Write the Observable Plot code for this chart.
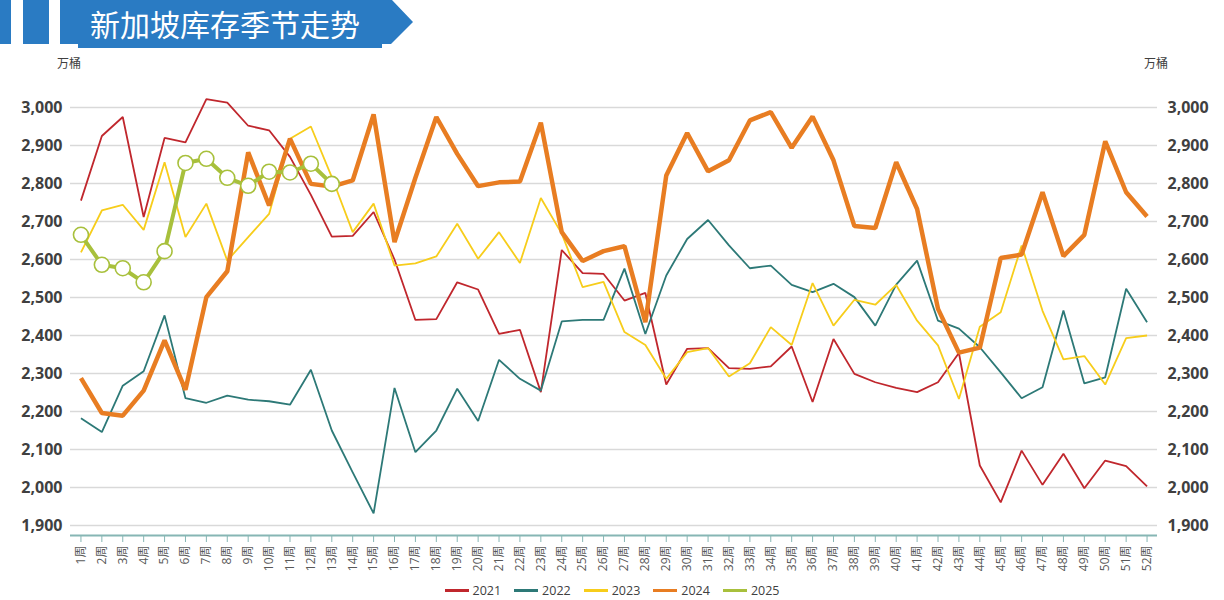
<!DOCTYPE html>
<html>
<head>
<meta charset="utf-8">
<script src="https://cdn.jsdelivr.net/npm/d3@7"></script>
<script src="https://cdn.jsdelivr.net/npm/@observablehq/plot@0.6"></script>
<style>
  html, body { margin: 0; padding: 0; background: #fff; }
  body { width: 1224px; height: 600px; position: relative; overflow: hidden;
         font-family: "Open Sans", "Noto Sans CJK SC", sans-serif; }
  #banner { position: absolute; left: 0; top: 0; }
  #chart { position: absolute; left: 0; top: 0; }
  .unit { position: absolute; top: 54px; font-size: 12px; color: #404040;
          font-family: "Noto Sans CJK SC", sans-serif; }
  #legend { position: absolute; top: 582px; left: 0; width: 1224px; display: flex;
            justify-content: center; gap: 13px; font-size: 12.5px; color: #404040; }
  #legend .item { display: flex; align-items: center; gap: 4px; }
  #legend .sw { width: 24px; height: 3px; display: inline-block; }
</style>
</head>
<body>
<svg id="banner" width="430" height="50">
  <rect x="0" y="0" width="11" height="44" fill="#2a7bc3"/>
  <rect x="23" y="0" width="26" height="44" fill="#2a7bc3"/>
  <polygon points="60,0 392,0 413,22 391,44 382,44 382,48 78,48 78,44 60,44" fill="#2a7bc3"/>
  <text x="90" y="36" fill="#fff" font-size="30" font-family="'Noto Sans CJK SC', sans-serif">新加坡库存季节走势</text>
</svg>
<div class="unit" style="left:57px">万桶</div>
<div class="unit" style="left:1144px">万桶</div>
<div id="chart"></div>
<div id="legend"></div>
<script>
const weeks = ["1周","2周","3周","4周","5周","6周","7周","8周","9周","10周","11周","12周","13周","14周","15周","16周","17周","18周","19周","20周","21周","22周","23周","24周","25周","26周","27周","28周","29周","30周","31周","32周","33周","34周","35周","36周","37周","38周","39周","40周","41周","42周","43周","44周","45周","46周","47周","48周","49周","50周","51周","52周"];
const yTicks = [1900, 2000, 2100, 2200, 2300, 2400, 2500, 2600, 2700, 2800, 2900, 3000];
const years = ["2021", "2022", "2023", "2024", "2025"];
const colors = ["#c0272d", "#2d7977", "#f7cd1b", "#e87d22", "#a8c03c"];

const y2021 = [2755, 2925, 2975, 2712, 2920, 2908, 3022, 3013, 2952, 2940, 2870, 2770, 2660, 2662, 2725, 2600, 2441, 2443, 2540, 2521, 2404, 2415, 2251, 2625, 2564, 2562, 2492, 2512, 2271, 2365, 2367, 2314, 2312, 2319, 2371, 2225, 2391, 2299, 2277, 2262, 2251, 2277, 2354, 2058, 1961, 2097, 2007, 2089, 1998, 2071, 2056, 2003];
const y2022 = [2182, 2146, 2268, 2306, 2453, 2235, 2223, 2242, 2231, 2227, 2218, 2310, 2150, 2040, 1932, 2262, 2093, 2150, 2260, 2175, 2336, 2286, 2255, 2437, 2441, 2441, 2576, 2404, 2558, 2654, 2704, 2637, 2577, 2584, 2533, 2514, 2536, 2501, 2426, 2534, 2597, 2439, 2418, 2369, 2303, 2235, 2264, 2466, 2274, 2290, 2523, 2435];
const y2023 = [2619, 2729, 2744, 2678, 2856, 2659, 2747, 2597, 2659, 2720, 2918, 2950, 2817, 2672, 2747, 2584, 2590, 2608, 2694, 2602, 2672, 2591, 2762, 2668, 2527, 2541, 2409, 2375, 2286, 2356, 2367, 2292, 2327, 2422, 2375, 2538, 2426, 2494, 2481, 2533, 2439, 2374, 2233, 2423, 2461, 2637, 2465, 2337, 2346, 2271, 2393, 2400];
const y2024 = [2288, 2196, 2189, 2255, 2387, 2257, 2501, 2569, 2882, 2742, 2918, 2799, 2792, 2808, 2982, 2646, 2815, 2975, 2878, 2793, 2803, 2805, 2960, 2672, 2596, 2622, 2635, 2435, 2821, 2933, 2832, 2861, 2966, 2988, 2894, 2976, 2861, 2688, 2683, 2856, 2733, 2470, 2355, 2368, 2604, 2613, 2777, 2609, 2665, 2911, 2777, 2713];
const y2025 = [2665, 2586, 2577, 2540, 2622, 2854, 2865, 2815, 2794, 2831, 2829, 2852, 2799];

const series = [y2021, y2022, y2023, y2024, y2025];
const widths = [1.8, 1.8, 1.8, 4.5, 4];
const rows = [];
series.forEach((vals, i) => vals.forEach((v, j) => rows.push({year: years[i], week: weeks[j], value: v})));

const fontFam = "'Open Sans', 'Noto Sans CJK SC', sans-serif";
const lineMarks = years.map((yr, i) => Plot.line(rows.filter(d => d.year === yr), {
  x: "week", y: "value", stroke: colors[i], strokeWidth: widths[i],
  strokeLinejoin: "miter", strokeLinecap: "butt"
}));

const chart = Plot.plot({
  width: 1224,
  height: 575,
  marginTop: 88,
  marginBottom: 40,
  marginLeft: 70,
  marginRight: 67,
  style: {fontFamily: fontFam, background: "transparent"},
  x: {type: "point", domain: weeks, padding: 0.5, label: null},
  y: {domain: [1873.7, 3050], label: null},
  marks: [
    Plot.gridY(yTicks, {stroke: "#d9d9d9", strokeOpacity: 1, strokeWidth: 1.4}),
    Plot.axisY(yTicks, {anchor: "left", tickSize: 0, tickPadding: 8, tickFormat: d3.format(","),
      fontSize: 16, fontWeight: "bold", fill: "#404040", label: null}),
    Plot.axisY(yTicks, {anchor: "right", tickSize: 0, tickPadding: 10, tickFormat: d3.format(","),
      fontSize: 16, fontWeight: "bold", fill: "#404040", label: null}),
    Plot.axisX({tickSize: 7, tickRotate: -90, tickPadding: 3, fontSize: 12,
      stroke: "#86b6b4", fill: "#595959", label: null}),
    Plot.ruleY([1873.7], {stroke: "#86b6b4", strokeWidth: 2}),
    ...lineMarks,
    Plot.dot(rows.filter(d => d.year === "2025"), {x: "week", y: "value", r: 7.5,
      fill: "#fff", stroke: colors[4], strokeWidth: 1.6})
  ]
});
document.getElementById("chart").appendChild(chart);

const legend = document.getElementById("legend");
years.forEach((yr, i) => {
  const it = document.createElement("div");
  it.className = "item";
  it.innerHTML = `<span class="sw" style="background:${colors[i]}"></span><span>${yr}</span>`;
  legend.appendChild(it);
});
</script>
</body>
</html>
